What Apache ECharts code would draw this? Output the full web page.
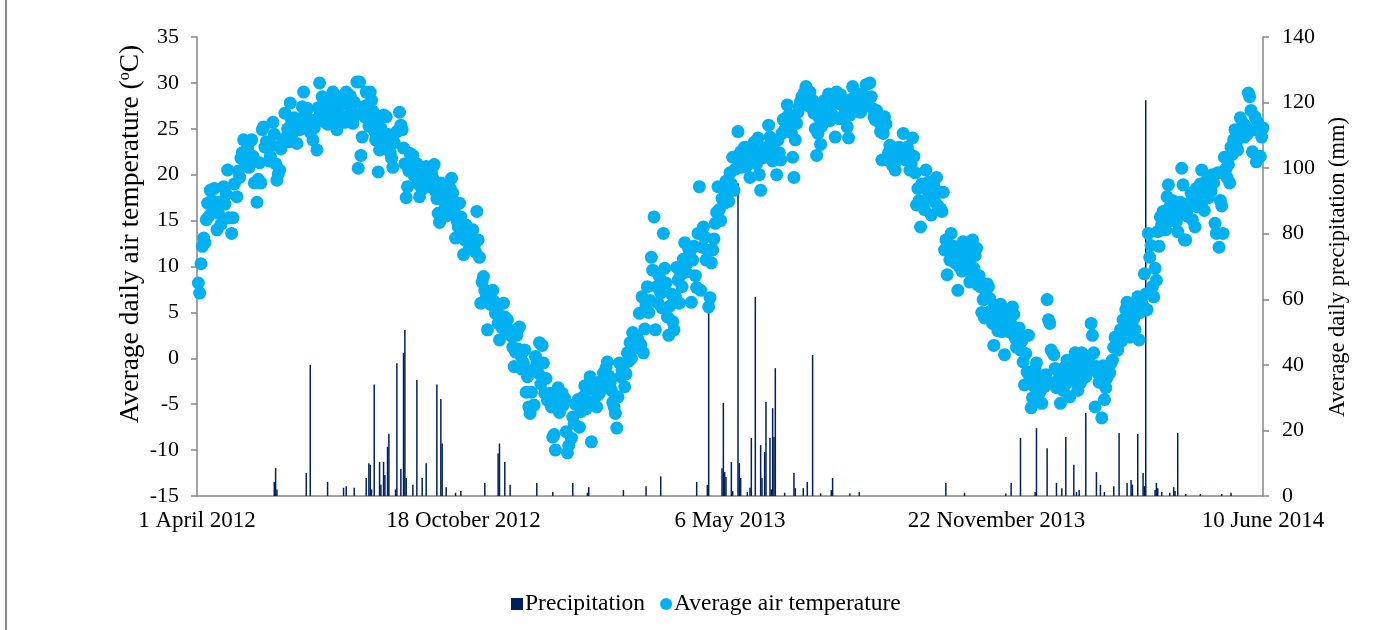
<!DOCTYPE html>
<html>
<head>
<meta charset="utf-8">
<script src="https://cdn.jsdelivr.net/npm/echarts@6/dist/echarts.min.js"></script>
<style>
  html, body { margin: 0; padding: 0; background: #fff; }
  #chart { width: 1383px; height: 630px; }
</style>
</head>
<body>
<div id="chart"></div>
<script>
// x values are days counted from 1 April 2012
const tickLabels = ['1 April 2012', '18 October 2012', '6 May 2013', '22 November 2013', '10 June 2014'];

// [day, mm]
const precipitation = [
  [58,4.3],[59,8.5],[60,2],[82,7],[85,40],[98,4.3],[110,2.5],[112,3],[118,2.5],[127,5.5],
  [129,10],[130,9.5],[131,2],[133,34],[137,10.4],[138,3.4],[140,10.4],[141,6.4],[143,15],[144,19],
  [149,2],[150,40.5],[153,8.2],[155,43.6],[156,50.6],[157,5.5],[162,3.4],[165,35.4],[169,5.5],[172,10],
  [180,34],[183,29.6],[184,16],[187,2.7],[194,1],[198,1.5],[216,4],[226,13],[227,16],[231,10.4],
  [235,3.4],[255,4],[267,1.2],[282,4],[293,1],[294,2.7],[320,1.8],[337,3],[348,6],[375,4.3],
  [383,3.4],[384,56],[394,8.5],[395,28.4],[396,7.3],[397,5.8],[401,10.4],[402,1.5],[406,95.4],[407,10],
  [408,5.5],[413,1.2],[415,2.5],[416,17.7],[419,60.7],[423,15.5],[424,5.5],[426,13.4],[427,28.7],[430,17.7],
  [431,2],[432,26.8],[433,18],[434,39],[441,1],[448,7],[449,2.4],[455,2.4],[458,4.3],[462,43],
  [468,0.8],[476,1.8],[477,5.5],[490,0.8],[497,1.2],[562,4],[576,1],[607,0.8],[611,4],[618,17.7],
  [629,1.2],[630,20.7],[638,14.6],[645,4],[649,2.4],[652,18],[658,9.5],[660,1.2],[662,1.8],[667,25.3],
  [675,7.3],[678,3.4],[681,1.2],[688,3],[692,19.2],[698,4],[701,4.9],[702,3.5],[706,18.9],[710,7],
  [711,3],[712,120.7],[719,1.8],[720,4],[721,2.4],[724,1.2],[730,1],[733,2.7],[734,1.5],[736,19.2],
  [742,0.6],[753,0.6],[769,0.6],[776,1]
];

// [day, deg C]
const temperature = [
  [1,8.2],[2,7.1],[3,10.3],[4,12.2],[5,13.1],[6,12.6],[7,15.1],[8,16.9],[9,15.5],[10,18.3],
  [11,17.2],[12,16.0],[13,18.5],[15,14.0],[16,15.8],[17,17.0],[18,14.6],[20,18.7],[21,16.8],[22,17.9],
  [23,20.5],[24,15.3],[26,13.6],[27,15.3],[28,19.0],[30,17.6],[31,20.4],[32,19.7],[33,21.8],[34,22.4],
  [35,23.8],[36,21.4],[38,22.9],[39,20.8],[41,23.8],[42,22.0],[43,19.1],[45,17.0],[46,19.5],[47,21.3],
  [48,19.1],[49,24.9],[50,25.2],[51,23.0],[52,23.6],[54,21.5],[55,22.0],[56,23.2],[57,25.7],[58,24.4],
  [59,21.2],[60,19.4],[61,20.1],[62,20.5],[63,22.8],[64,23.4],[66,26.7],[67,24.1],[68,25.0],[69,23.6],
  [70,27.8],[71,25.9],[72,24.6],[73,26.2],[75,23.4],[76,25.3],[77,24.9],[78,26.0],[79,27.4],[80,29.0],
  [81,26.7],[82,25.5],[83,27.2],[84,26.0],[85,24.6],[87,23.8],[88,25.1],[89,26.0],[90,22.7],[91,27.3],
  [92,30.0],[93,26.6],[94,28.5],[95,25.8],[96,27.8],[97,26.7],[98,25.5],[99,27.0],[100,28.1],[102,29.0],
  [103,27.2],[104,26.0],[105,24.9],[106,27.4],[107,28.4],[108,26.4],[110,27.8],[111,25.7],[112,29.0],[113,26.3],
  [114,27.5],[115,28.6],[116,26.9],[117,25.6],[118,27.9],[119,26.5],[120,30.1],[121,20.7],[122,30.1],[123,22.1],
  [124,24.1],[125,27.4],[126,26.3],[127,29.0],[128,27.6],[129,25.3],[130,29.0],[131,28.1],[132,26.9],[133,24.8],
  [134,23.8],[135,26.0],[136,20.3],[137,22.7],[138,25.1],[139,24.0],[140,26.5],[142,26.3],[143,24.4],[144,23.0],
  [145,22.4],[146,21.8],[147,20.8],[148,23.5],[150,24.7],[152,26.8],[153,25.4],[154,24.9],[155,22.9],[156,21.2],
  [157,17.5],[158,18.7],[159,20.4],[160,22.3],[161,21.5],[162,22.1],[163,19.9],[164,20.6],[165,21.2],[166,19.0],
  [167,17.6],[168,20.5],[169,18.4],[170,19.8],[172,20.9],[173,19.3],[175,18.7],[176,20.3],[177,19.6],[178,21.1],
  [179,18.2],[180,17.4],[181,15.8],[182,14.8],[183,19.1],[184,18.3],[185,17.2],[186,16.3],[187,15.5],[188,17.8],
  [189,16.9],[190,18.5],[191,19.6],[192,18.0],[193,16.0],[194,13.1],[195,15.0],[196,14.3],[197,16.9],[198,15.4],
  [199,13.6],[200,11.3],[201,12.9],[202,14.5],[203,13.8],[204,12.4],[205,11.9],[206,13.0],[207,14.0],[208,12.3],
  [209,11.6],[210,16.0],[211,12.9],[212,11.0],[213,6.0],[214,8.3],[215,8.9],[216,7.4],[217,6.6],[218,3.1],
  [219,7.0],[220,5.9],[222,7.4],[223,6.2],[224,4.9],[225,5.3],[226,3.8],[227,2.0],[228,4.6],[229,3.3],
  [230,6.0],[231,4.5],[232,3.0],[233,4.2],[235,3.1],[236,2.4],[237,1.2],[238,-0.9],[239,0.7],[240,2.5],
  [241,1.0],[242,3.4],[243,0.3],[244,-1.2],[245,-0.5],[246,0.9],[247,-3.7],[248,-2.0],[249,-5.3],[250,-6.0],
  [251,-3.7],[252,-1.3],[253,-5.1],[254,0.2],[255,-0.5],[256,-1.6],[257,1.7],[258,-2.8],[259,1.4],[260,-0.5],
  [261,-3.8],[262,-2.2],[263,-4.6],[265,-3.8],[266,-5.3],[267,-8.6],[268,-8.3],[269,-10.0],[270,-4.7],[271,-3.2],
  [272,-5.9],[274,-3.8],[275,-5.1],[276,-4.4],[277,-8.0],[278,-10.3],[279,-9.5],[281,-8.7],[282,-6.4],[283,-7.1],
  [284,-5.0],[286,-4.5],[287,-7.5],[288,-5.8],[290,-4.2],[291,-3.0],[292,-5.5],[294,-3.4],[295,-2.0],[296,-9.1],
  [297,-4.7],[298,-3.2],[300,-5.3],[301,-4.0],[302,-3.8],[303,-2.5],[305,-1.6],[306,-2.9],[307,-1.0],[308,-0.4],
  [309,-1.9],[310,-2.7],[311,-3.5],[312,-4.8],[313,-5.3],[314,-6.0],[315,-7.6],[316,-4.2],[317,-0.5],[318,-2.0],
  [319,-1.2],[320,-0.8],[321,-3.1],[322,-1.7],[323,0.6],[324,-0.3],[325,1.7],[326,0.0],[327,2.8],[328,1.1],
  [330,2.4],[331,2.0],[332,4.9],[333,1.5],[334,6.7],[335,0.6],[336,3.2],[337,5.8],[338,7.8],[339,5.0],
  [340,6.3],[341,11.0],[342,9.6],[343,15.4],[344,3.1],[345,7.8],[346,6.0],[347,8.9],[348,7.1],[349,5.5],
  [350,13.6],[351,9.8],[352,8.2],[353,4.5],[354,2.5],[355,5.7],[356,7.0],[357,4.0],[358,3.1],[359,6.8],
  [360,9.9],[361,8.5],[362,6.0],[363,9.1],[364,7.8],[365,10.8],[366,12.6],[367,9.4],[368,10.4],[369,11.9],
  [370,11.6],[371,6.1],[372,10.7],[373,12.2],[374,9.0],[375,7.7],[376,13.6],[377,18.7],[378,7.4],[379,12.1],
  [380,14.3],[381,13.2],[382,10.7],[383,11.8],[384,5.6],[385,6.6],[386,10.4],[387,11.8],[388,13.0],[389,14.7],
  [390,15.9],[391,18.7],[392,16.2],[393,15.0],[394,17.4],[396,16.9],[397,19.3],[398,18.0],[399,17.1],[400,20.2],
  [401,19.0],[402,21.9],[403,18.3],[404,20.6],[405,22.0],[406,24.7],[407,21.1],[408,22.5],[409,20.8],[410,21.7],
  [411,23.0],[412,22.2],[413,21.0],[414,22.4],[415,19.7],[416,21.5],[417,22.9],[418,23.5],[419,22.0],[420,21.2],
  [421,24.0],[422,20.0],[423,18.3],[424,21.8],[425,22.6],[426,21.9],[427,23.0],[428,22.8],[429,25.4],[430,24.1],
  [431,23.3],[432,21.5],[433,22.5],[434,22.5],[435,20.0],[436,23.8],[437,22.4],[438,21.6],[439,24.5],[440,26.0],
  [441,24.9],[442,25.8],[443,27.6],[444,26.5],[445,25.4],[446,24.6],[447,21.9],[448,19.7],[449,23.8],[450,25.6],
  [451,26.8],[452,27.4],[453,28.0],[454,28.5],[455,27.6],[456,29.0],[457,29.6],[458,28.3],[459,27.5],[460,29.0],
  [461,27.6],[462,28.1],[463,26.7],[464,25.0],[465,22.1],[466,24.5],[467,26.2],[468,23.3],[469,25.3],[470,27.4],
  [471,28.1],[472,26.6],[473,27.2],[474,28.8],[475,25.9],[476,26.7],[477,27.9],[478,28.4],[479,24.1],[480,29.0],
  [481,27.8],[482,26.1],[483,28.7],[484,27.6],[485,26.4],[486,28.0],[487,27.1],[488,25.2],[489,24.0],[490,26.5],
  [491,28.2],[492,29.6],[493,27.5],[494,28.5],[495,26.9],[496,27.9],[497,28.8],[498,26.8],[499,27.3],[500,28.6],
  [502,29.8],[503,27.6],[504,28.3],[505,30.0],[506,28.5],[507,27.2],[508,26.3],[509,26.0],[510,27.0],[511,26.5],
  [512,25.7],[513,24.7],[514,21.6],[515,24.5],[516,26.3],[517,25.5],[518,21.6],[519,22.4],[520,23.2],[521,22.0],
  [522,21.0],[523,22.9],[524,20.5],[525,22.3],[526,21.6],[527,23.0],[528,22.1],[530,24.5],[531,22.7],[532,21.6],
  [533,23.0],[534,22.4],[535,20.5],[536,21.2],[537,24.0],[538,22.0],[539,20.2],[540,16.7],[541,18.5],[542,17.2],
  [543,14.3],[544,19.0],[545,16.9],[546,16.2],[547,20.5],[548,18.3],[549,19.2],[550,17.6],[551,15.6],[552,17.6],
  [553,18.8],[554,17.0],[555,19.7],[556,16.6],[557,18.1],[558,16.3],[559,16.0],[560,18.1],[561,11.8],[562,12.9],
  [563,9.1],[564,12.4],[565,10.7],[566,13.6],[567,11.4],[568,12.2],[569,10.4],[570,11.0],[571,7.4],[572,10.0],
  [573,11.7],[574,9.5],[575,12.7],[576,9.6],[577,11.0],[578,12.0],[579,10.5],[580,8.3],[581,9.4],[582,12.9],
  [583,9.8],[584,11.2],[585,12.0],[586,8.0],[587,9.0],[588,7.8],[589,5.0],[590,6.4],[591,4.4],[592,7.2],
  [593,8.1],[594,7.8],[595,6.5],[596,5.2],[597,3.8],[598,1.4],[599,4.9],[600,5.6],[601,3.0],[602,4.5],
  [603,5.9],[604,2.9],[605,4.0],[606,0.4],[607,3.5],[608,5.2],[609,2.9],[610,4.4],[611,3.7],[612,5.6],
  [613,4.8],[614,2.2],[615,1.2],[616,2.8],[617,3.3],[618,0.9],[619,1.9],[620,-0.4],[621,-2.9],[622,0.5],
  [623,-1.5],[624,2.5],[625,-2.0],[626,-5.4],[627,-4.3],[628,-3.0],[629,-1.2],[630,-0.5],[631,-2.2],[632,-3.8],
  [633,-3.5],[634,-4.9],[635,-2.4],[636,-3.1],[637,-1.8],[638,6.4],[639,4.2],[640,3.8],[641,0.9],[642,-2.7],
  [643,0.4],[644,-1.1],[645,-3.2],[646,-2.4],[647,-1.5],[648,-4.9],[649,-2.0],[650,-3.5],[651,-1.0],[652,-2.8],
  [653,-0.2],[654,-1.7],[655,-4.2],[656,-1.3],[657,-2.5],[658,-0.6],[659,0.6],[660,-0.5],[661,-3.5],[662,-1.9],
  [663,-2.7],[664,0.6],[665,-1.3],[666,-0.2],[667,-2.0],[668,-0.8],[669,-1.3],[670,0.2],[671,3.8],[672,2.5],
  [673,0.6],[674,-5.3],[675,-0.9],[676,-1.6],[677,-2.6],[678,-1.0],[679,-6.5],[680,-0.8],[681,-4.5],[682,-3.2],
  [683,-2.1],[684,-0.9],[685,-1.6],[686,-0.5],[687,-0.2],[688,1.2],[689,2.3],[690,1.6],[691,0.9],[692,2.4],
  [693,3.1],[694,1.9],[695,4.2],[696,3.0],[697,5.3],[698,6.1],[699,3.8],[700,2.3],[701,4.6],[702,5.6],
  [703,4.3],[704,3.1],[705,4.9],[706,6.7],[707,2.0],[708,5.0],[709,6.0],[710,5.6],[711,9.2],[712,7.0],
  [713,5.3],[714,13.6],[715,11.0],[716,12.3],[717,7.8],[718,6.7],[719,9.8],[720,8.5],[721,13.8],[722,12.2],
  [723,15.4],[724,14.6],[725,16.0],[726,15.2],[727,14.0],[728,17.6],[729,18.9],[730,16.5],[731,15.0],[732,17.2],
  [733,16.9],[734,15.7],[735,14.9],[736,13.8],[737,15.9],[738,17.0],[739,20.7],[740,18.9],[741,12.9],[742,12.9],
  [743,15.5],[744,16.4],[745,16.9],[746,18.0],[747,15.1],[748,17.3],[749,14.3],[750,18.5],[751,16.5],[752,17.8],
  [753,19.0],[754,20.5],[755,17.2],[756,16.1],[757,18.6],[758,19.4],[759,17.5],[760,19.4],[761,18.2],[762,20.0],
  [763,19.1],[764,14.7],[765,13.6],[766,20.2],[767,12.1],[768,17.2],[769,16.6],[770,13.6],[771,21.9],[772,20.6],
  [773,19.7],[774,21.1],[775,19.1],[776,23.0],[777,22.2],[778,23.8],[779,24.9],[780,23.5],[781,22.7],[782,24.4],
  [783,26.2],[784,24.9],[785,25.6],[786,24.1],[787,25.3],[788,24.4],[789,28.9],[790,28.5],[791,27.0],[792,22.5],
  [793,24.9],[794,26.3],[795,21.4],[796,25.7],[797,25.2],[798,22.0],[799,24.1],[800,25.1]
];

const font = '"Liberation Serif", "Times New Roman", serif';
const axisGrey = '#868686';

let myChart = echarts.init(document.getElementById('chart'));
const option = {
    animation: false,
    backgroundColor: '#fff',
    textStyle: { fontFamily: font, color: '#000' },
    grid: { left: 197, right: 120, top: 37, bottom: 134, containLabel: false },
    legend: {
        left: 506,
        top: 587,
        itemGap: 15,
        itemWidth: 12,
        itemHeight: 12,
        textStyle: { fontFamily: font, fontSize: 23.5, color: '#000', padding: [0, 0, 0, -3] },
        data: [
            { name: 'Precipitation', icon: 'rect' },
            { name: 'Average air temperature', icon: 'circle' }
        ]
    },
    xAxis: {
        type: 'value',
        min: 0,
        max: 800,
        interval: 200,
        splitLine: { show: false },
        axisTick: { show: false },
        axisLine: { onZero: false, lineStyle: { color: axisGrey, width: 1.5 } },
        axisLabel: {
            fontFamily: font, fontSize: 23, color: '#000', margin: 13,
            formatter: v => tickLabels[Math.round(v / 200)]
        }
    },
    yAxis: [
        {
            type: 'value',
            min: -15,
            max: 35,
            interval: 5,
            splitLine: { show: false },
            axisLine: { show: true, lineStyle: { color: axisGrey, width: 1.5 } },
            axisTick: { show: true, length: 6, lineStyle: { color: axisGrey, width: 1.5 } },
            axisLabel: { fontFamily: font, fontSize: 22, color: '#000', margin: 18 }
        },
        {
            type: 'value',
            min: 0,
            max: 140,
            interval: 20,
            splitLine: { show: false },
            axisLine: { show: true, lineStyle: { color: axisGrey, width: 1.5 } },
            axisTick: { show: true, length: 6, lineStyle: { color: axisGrey, width: 1.5 } },
            axisLabel: { fontFamily: font, fontSize: 22, color: '#000', margin: 19 }
        }
    ],
    graphic: [
        {
            type: 'line',
            shape: { x1: 6, y1: 0, x2: 6, y2: 630 },
            style: { stroke: '#8a8a8a', lineWidth: 2 }
        },
        {
            type: 'text',
            x: 131,
            y: 234,
            rotation: Math.PI / 2,
            style: {
                text: 'Average daily air temperature ({sup|o}C)',
                font: '27.5px ' + font,
                fill: '#000',
                align: 'center',
                verticalAlign: 'middle',
                rich: { sup: { fontSize: 16, fontFamily: font, verticalAlign: 'top', padding: [0, 0, 10, 0] } }
            }
        },
        {
            type: 'text',
            x: 1338,
            y: 267,
            rotation: Math.PI / 2,
            style: {
                text: 'Average daily precipitation (mm)',
                font: '22.5px ' + font,
                fill: '#000',
                align: 'center',
                verticalAlign: 'middle'
            }
        }
    ],
    series: [
        {
            name: 'Precipitation',
            type: 'bar',
            yAxisIndex: 1,
            barWidth: 1.5,
            itemStyle: { color: '#002060' },
            data: precipitation
        },
        {
            name: 'Average air temperature',
            type: 'scatter',
            yAxisIndex: 0,
            symbol: 'circle',
            symbolSize: 13,
            itemStyle: { color: '#00B0F0', opacity: 1 },
            data: temperature
        }
    ]
};
myChart.setOption(option);
</script>
</body>
</html>
